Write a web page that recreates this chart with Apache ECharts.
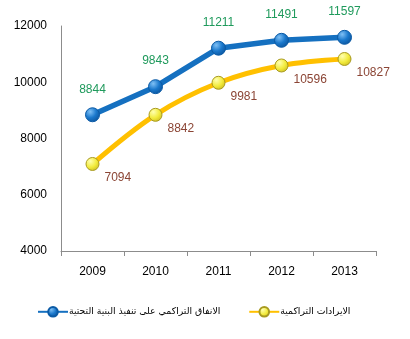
<!DOCTYPE html>
<html><head><meta charset="utf-8">
<script src="https://cdn.jsdelivr.net/npm/echarts@6/dist/echarts.min.js"></script>
<style>html,body{margin:0;padding:0;background:#fff}#c{width:410px;height:339px}</style>
</head><body><div id="c"></div>
<script>
var years = ['2009','2010','2011','2012','2013'];
var spending = [8844, 9843, 11211, 11491, 11597];
var revenue = [7094, 8842, 9981, 10596, 10827];
var yTicks = [4000, 6000, 8000, 10000, 12000];
var nameSpending = 'الانفاق التراكمي على تنفيذ البنية التحتية';
var nameRevenue = 'الايرادات التراكمية';

var chart = echarts.init(document.getElementById('c'));
var font = 'Liberation Sans, Arial, sans-serif';
chart.setOption({
  animation: false,
  textStyle: {fontFamily: font},
  grid: {left: 61, right: 34, top: 26, bottom: 88},
  legend: {
    top: 301, left: 32,
    itemWidth: 30, itemHeight: 12, itemGap: 28,
    textStyle: {fontSize: 9.3, color: '#000', padding: [0, 0, 0, -4], fontFamily: 'DejaVu Sans, sans-serif'},
    data: [nameSpending, nameRevenue]
  },
  xAxis: {
    type: 'category', data: years, boundaryGap: true,
    axisLine: {lineStyle: {color: '#8c8c8c'}},
    axisTick: {show: true, length: 5, lineStyle: {color: '#8c8c8c'}},
    axisLabel: {color: '#000', fontSize: 12, margin: 15, fontFamily: font}
  },
  yAxis: {
    type: 'value', min: yTicks[0], max: yTicks[yTicks.length-1], interval: 2000,
    axisLine: {show: true, lineStyle: {color: '#8c8c8c'}},
    axisTick: {show: false},
    splitLine: {show: false},
    axisLabel: {color: '#000', fontSize: 12, margin: 14, fontFamily: font,
      formatter: function (v) { return String(v); }}
  },
  series: [
    {
      name: nameSpending, type: 'line', data: spending,
      symbol: 'circle', symbolSize: 14,
      lineStyle: {color: '#1570c0', width: 5.5},
      itemStyle: {
        color: new echarts.graphic.RadialGradient(0.35, 0.3, 0.8, [
          {offset: 0, color: '#7fc0f5'}, {offset: 0.5, color: '#1a78cc'}, {offset: 1, color: '#0a4f95'}]),
        borderColor: '#0b5aa5', borderWidth: 1
      },
      label: {show: true, position: 'top', distance: 12, color: '#1f9a5c', fontSize: 12, fontFamily: font}
    },
    {
      name: nameRevenue, type: 'line', data: revenue, smooth: 0.35,
      symbol: 'circle', symbolSize: 13,
      lineStyle: {color: '#ffc000', width: 5},
      itemStyle: {
        color: new echarts.graphic.RadialGradient(0.35, 0.3, 0.8, [
          {offset: 0, color: '#ffffb0'}, {offset: 0.55, color: '#f2eb3c'}, {offset: 1, color: '#c8b820'}]),
        borderColor: '#a89a20', borderWidth: 1
      },
      label: {show: true, position: 'right', distance: 5, offset: [0, 14], color: '#8b4535', fontSize: 12, fontFamily: font}
    }
  ]
});
</script></body></html>
